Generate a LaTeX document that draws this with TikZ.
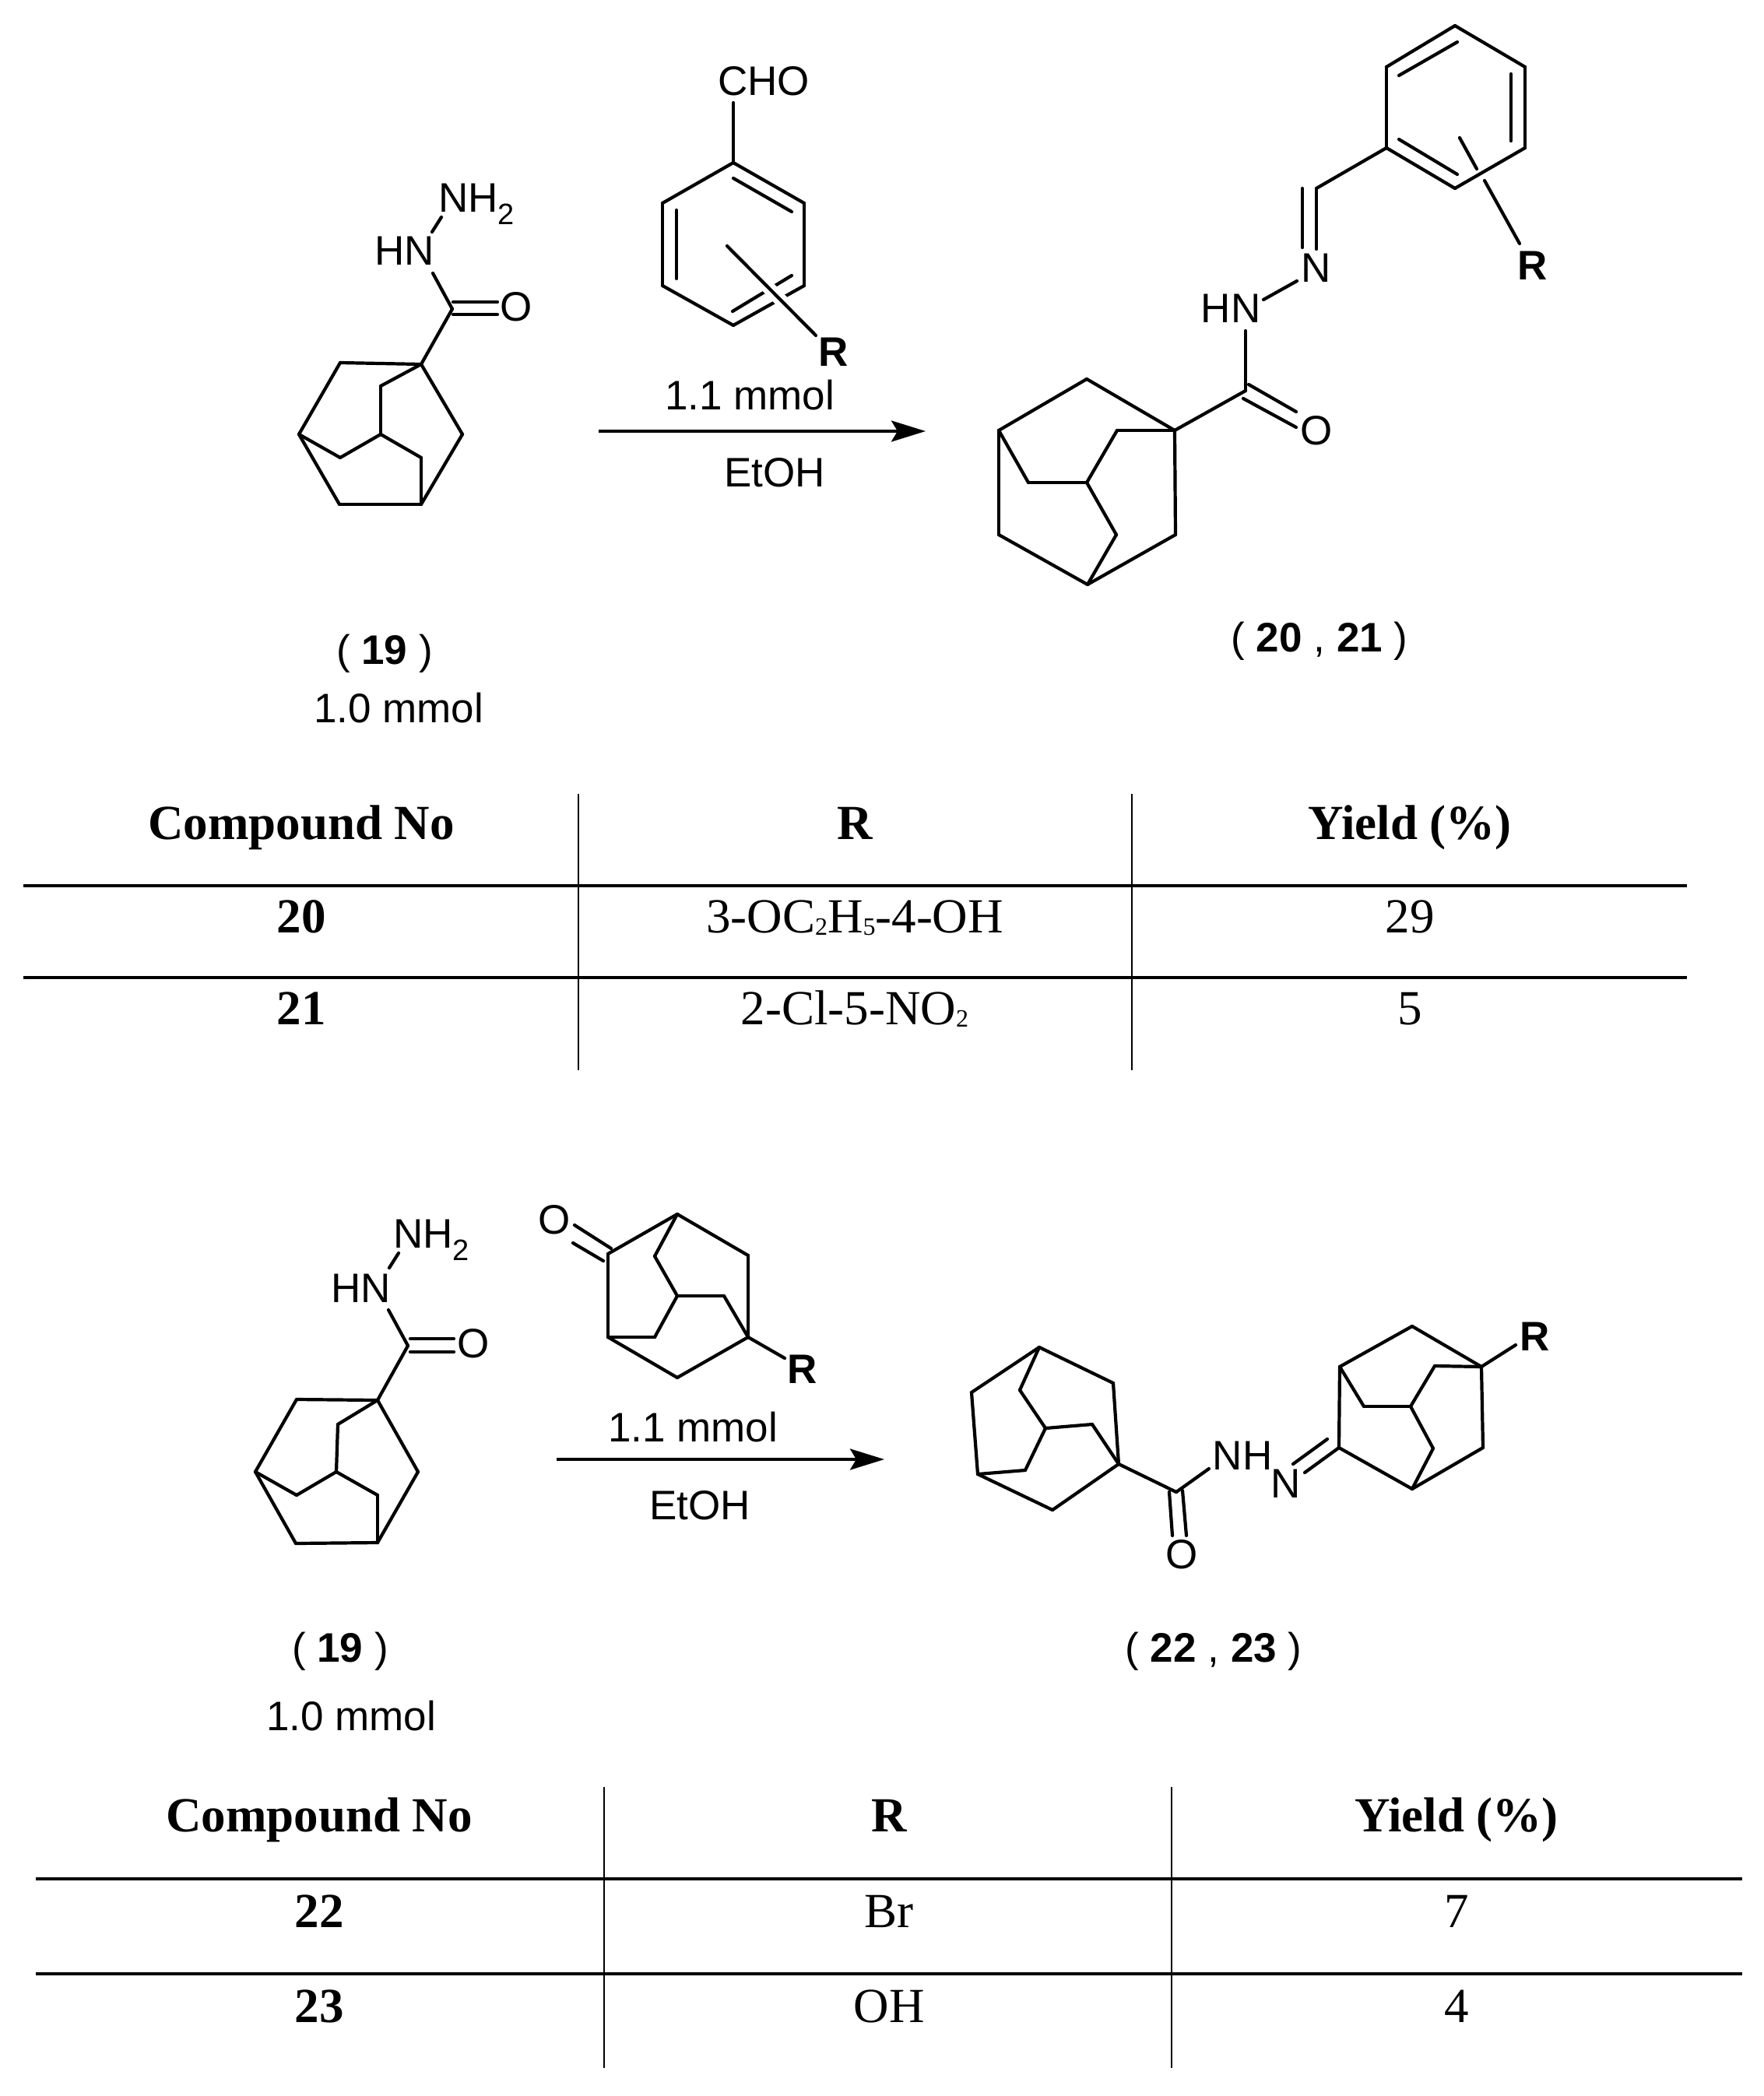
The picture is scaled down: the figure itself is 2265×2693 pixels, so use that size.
\documentclass[tikz,border=0pt]{standalone}
\usepackage{fontspec}
\setmainfont{Liberation Serif}
\newfontfamily\chemfont{Liberation Sans}
\usetikzlibrary{arrows.meta}
\newcommand{\atomsub}[1]{\raisebox{-16pt}{\fontsize{38}{38}\selectfont #1}}
\newcommand{\tabsub}[1]{\raisebox{-3pt}{\fontsize{32}{32}\selectfont #1}}
\tikzstyle{atom}=[anchor=base,inner sep=0pt,font=\chemfont\fontsize{53}{60}\selectfont]
\tikzstyle{atomw}=[atom,anchor=base west]
\tikzstyle{rgroup}=[atom,font=\chemfont\bfseries\fontsize{53}{60}\selectfont]
\tikzstyle{celltext}=[anchor=base,inner sep=0pt,font=\fontsize{63}{70}\selectfont]
\tikzstyle{cellbold}=[celltext,font=\bfseries\fontsize{63}{70}\selectfont]
\tikzstyle{bond}=[line width=4.2pt,line cap=round,line join=round]
\tikzstyle{halo}=[line width=17pt,white]
\tikzstyle{hrule}=[line width=3.6pt]
\tikzstyle{vrule}=[line width=2.6pt]
\tikzstyle{reaction}=[line width=4pt,-{Stealth[length=44pt,width=27pt,inset=8pt]}]

\begin{document}
\begin{tikzpicture}[x=1pt,y=-1pt]
    \useasboundingbox (0,0) rectangle (2265,2693);

    % hydrazide 19, first scheme
    \coordinate (a1) at (541,468);  \coordinate (a2) at (437,466);
    \coordinate (a3) at (384,558);  \coordinate (a4) at (436,648);
    \coordinate (a5) at (541,648);  \coordinate (a6) at (594,558);
    \coordinate (a7) at (489,496);  \coordinate (a8) at (489,558);
    \coordinate (a9) at (437,588);  \coordinate (a10) at (541,588);
    \coordinate (a11) at (581,397); \coordinate (a12) at (556,351);
    \coordinate (a13) at (555,298); \coordinate (a14) at (567,279);
    \coordinate (a15) at (582,388); \coordinate (a16) at (639,388);
    \coordinate (a17) at (582,404); \coordinate (a18) at (639,404);
    \foreach \from/\to in {a1/a2,a2/a3,a3/a4,a4/a5,a5/a6,a6/a1,a1/a7,a7/a8,a8/a9,a9/a3,a8/a10,a10/a5,a1/a11,a11/a12,a13/a14,a15/a16,a17/a18}
    \draw[bond] (\from) -- (\to);
    \node[atomw] (nh2a) at (563,272) {NH\atomsub{2}};
    \node[atom] (hna) at (520,340) {HN};
    \node[atom] (oa) at (663,412) {O};
    \node[atom] (la) at (494,853) {( \textbf{19} )};
    \node[atom] (ma) at (512,928) {1.0 mmol};

    % aldehyde
    \coordinate (b1) at (942,209);  \coordinate (b2) at (1033,261);
    \coordinate (b3) at (1033,367); \coordinate (b4) at (942,418);
    \coordinate (b5) at (851,367);  \coordinate (b6) at (851,261);
    \coordinate (b7) at (942,132);  \coordinate (b8) at (942,229);
    \coordinate (b9) at (1017,272); \coordinate (b10) at (869,270);
    \coordinate (b11) at (869,358); \coordinate (b12) at (941,400);
    \coordinate (b13) at (1017,354);\coordinate (b14) at (934,316);
    \coordinate (b15) at (1048,431);
    \foreach \from/\to in {b1/b2,b2/b3,b3/b4,b4/b5,b5/b6,b6/b1,b1/b7,b8/b9,b10/b11,b12/b13}
    \draw[bond] (\from) -- (\to);
    \draw[halo] (b14) -- (b15);
    \draw[bond] (b14) -- (b15);
    \node[atom] (cho) at (981,122) {CHO};
    \node[rgroup] (rb) at (1071,470) {R};
    \node[atom] (mb) at (963,526) {1.1 mmol};
    \node[atom] (eb) at (995,625) {EtOH};
    \coordinate (arr1) at (769,554);
    \coordinate (arr2) at (1189,554);
    \draw[reaction] (arr1) -- (arr2);

    % product 20, 21
    \coordinate (c1) at (1869,33);  \coordinate (c2) at (1959,86);
    \coordinate (c3) at (1959,190); \coordinate (c4) at (1869,242);
    \coordinate (c5) at (1781,190); \coordinate (c6) at (1781,86);
    \coordinate (c7) at (1797,97);  \coordinate (c8) at (1872,54);
    \coordinate (c9) at (1941,95);  \coordinate (c10) at (1941,181);
    \coordinate (c11) at (1797,179);\coordinate (c12) at (1872,224);
    \coordinate (c13) at (1875,177);\coordinate (c14) at (1897,217);
    \coordinate (c15) at (1907,232);\coordinate (c16) at (1952,313);
    \coordinate (c17) at (1691,242);\coordinate (c18) at (1691,320);
    \coordinate (c19) at (1673,242);\coordinate (c20) at (1673,318);
    \coordinate (c21) at (1666,361);\coordinate (c22) at (1623,385);
    \coordinate (c23) at (1600,425);\coordinate (c24) at (1600,502);
    \coordinate (c25) at (1604,494);\coordinate (c26) at (1665,529);
    \coordinate (c27) at (1597,512);\coordinate (c28) at (1665,549);
    \coordinate (c29) at (1509,553);\coordinate (c30) at (1396,487);
    \coordinate (c31) at (1283,553);\coordinate (c32) at (1283,687);
    \coordinate (c33) at (1397,751);\coordinate (c34) at (1510,687);
    \coordinate (c35) at (1435,553);\coordinate (c36) at (1396,620);
    \coordinate (c37) at (1321,620);\coordinate (c38) at (1434,687);
    \foreach \from/\to in {c1/c2,c2/c3,c3/c4,c4/c5,c5/c6,c6/c1,c7/c8,c9/c10,c11/c12,c13/c14,c15/c16,c5/c17,c17/c18,c19/c20,c21/c22,c23/c24,c25/c26,c27/c28,c24/c29,c29/c30,c30/c31,c31/c32,c32/c33,c33/c34,c34/c29,c29/c35,c35/c36,c36/c37,c37/c31,c36/c38,c38/c33}
    \draw[bond] (\from) -- (\to);
    \node[rgroup] (rc) at (1969,359) {R};
    \node[atom] (nc) at (1691,362) {N};
    \node[atom] (hnc) at (1581,414) {HN};
    \node[atom] (oc) at (1691,571) {O};
    \node[atom] (lc) at (1695,837) {( \textbf{20} , \textbf{21} )};

    % first table
    \coordinate (t1) at (743,1020);  \coordinate (t2) at (743,1375);
    \coordinate (t3) at (1454,1020); \coordinate (t4) at (1454,1375);
    \coordinate (t5) at (30,1138);   \coordinate (t6) at (2167,1138);
    \coordinate (t7) at (30,1256);   \coordinate (t8) at (2167,1256);
    \foreach \from/\to in {t1/t2,t3/t4}
    \draw[vrule] (\from) -- (\to);
    \foreach \from/\to in {t5/t6,t7/t8}
    \draw[hrule] (\from) -- (\to);
    \node[cellbold] (th1) at (387,1078) {Compound No};
    \node[cellbold] (th2) at (1098,1078) {R};
    \node[cellbold] (th3) at (1811,1078) {Yield (\%)};
    \node[cellbold] (tr1) at (387,1198) {20};
    \node[celltext] (tr2) at (1098,1198) {3-OC\tabsub{2}H\tabsub{5}-4-OH};
    \node[celltext] (tr3) at (1811,1198) {29};
    \node[cellbold] (ts1) at (387,1316) {21};
    \node[celltext] (ts2) at (1098,1316) {2-Cl-5-NO\tabsub{2}};
    \node[celltext] (ts3) at (1811,1316) {5};

    % hydrazide 19, second scheme
    \coordinate (d1) at (485,1799);  \coordinate (d2) at (381,1798);
    \coordinate (d3) at (328,1891);  \coordinate (d4) at (380,1983);
    \coordinate (d5) at (485,1982);  \coordinate (d6) at (537,1891);
    \coordinate (d7) at (434,1830);  \coordinate (d8) at (432,1891);
    \coordinate (d9) at (381,1921);  \coordinate (d10) at (485,1921);
    \coordinate (d11) at (524,1729); \coordinate (d12) at (499,1683);
    \coordinate (d13) at (500,1629); \coordinate (d14) at (512,1610);
    \coordinate (d15) at (527,1720); \coordinate (d16) at (583,1720);
    \coordinate (d17) at (527,1737); \coordinate (d18) at (583,1737);
    \foreach \from/\to in {d1/d2,d2/d3,d3/d4,d4/d5,d5/d6,d6/d1,d1/d7,d7/d8,d8/d9,d9/d3,d8/d10,d10/d5,d1/d11,d11/d12,d13/d14,d15/d16,d17/d18}
    \draw[bond] (\from) -- (\to);
    \node[atomw] (nh2d) at (505,1603) {NH\atomsub{2}};
    \node[atom] (hnd) at (464,1673) {HN};
    \node[atom] (od) at (608,1744) {O};
    \node[atom] (ld) at (437,2135) {( \textbf{19} )};
    \node[atom] (md) at (451,2223) {1.0 mmol};

    % adamantanone
    \coordinate (e1) at (870,1560);  \coordinate (e2) at (781,1611);
    \coordinate (e3) at (781,1718);  \coordinate (e4) at (870,1770);
    \coordinate (e5) at (961,1718);  \coordinate (e6) at (961,1613);
    \coordinate (e7) at (841,1614);  \coordinate (e8) at (870,1665);
    \coordinate (e9) at (930,1665);  \coordinate (e10) at (841,1718);
    \coordinate (e11) at (738,1574); \coordinate (e12) at (785,1604);
    \coordinate (e13) at (736,1597); \coordinate (e14) at (775,1620);
    \coordinate (e15) at (1008,1745);
    \foreach \from/\to in {e1/e2,e1/e6,e2/e3,e3/e4,e4/e5,e5/e6,e1/e7,e7/e8,e8/e9,e9/e5,e8/e10,e10/e3,e11/e12,e13/e14,e5/e15}
    \draw[bond] (\from) -- (\to);
    \node[atom] (oe) at (712,1585) {O};
    \node[rgroup] (re) at (1031,1777) {R};
    \node[atom] (me) at (890,1852) {1.1 mmol};
    \node[atom] (ee) at (899,1952) {EtOH};
    \coordinate (arr3) at (715,1875);
    \coordinate (arr4) at (1136,1875);
    \draw[reaction] (arr3) -- (arr4);

    % product 22, 23
    \coordinate (f1) at (1335,1731); \coordinate (f2) at (1430,1777);
    \coordinate (f3) at (1437,1881); \coordinate (f4) at (1248,1789);
    \coordinate (f5) at (1256,1894); \coordinate (f6) at (1352,1940);
    \coordinate (f7) at (1310,1786); \coordinate (f8) at (1343,1835);
    \coordinate (f9) at (1403,1830); \coordinate (f10) at (1317,1889);
    \coordinate (f11) at (1511,1917);\coordinate (f12) at (1553,1887);
    \coordinate (f13) at (1502,1917);\coordinate (f14) at (1506,1973);
    \coordinate (f15) at (1519,1915);\coordinate (f16) at (1524,1973);
    \foreach \from/\to in {f1/f2,f2/f3,f3/f6,f6/f5,f5/f4,f4/f1,f1/f7,f7/f8,f8/f9,f9/f3,f8/f10,f10/f5,f3/f11,f11/f12,f13/f14,f15/f16}
    \draw[bond] (\from) -- (\to);
    \coordinate (g1) at (1720,1860); \coordinate (g2) at (1721,1756);
    \coordinate (g3) at (1814,1704); \coordinate (g4) at (1903,1756);
    \coordinate (g5) at (1905,1860); \coordinate (g6) at (1814,1913);
    \coordinate (g7) at (1843,1755); \coordinate (g8) at (1812,1807);
    \coordinate (g9) at (1752,1807); \coordinate (g10) at (1841,1861);
    \coordinate (g11) at (1676,1892);\coordinate (g12) at (1661,1881);
    \coordinate (g13) at (1705,1849);\coordinate (g14) at (1947,1728);
    \foreach \from/\to in {g1/g2,g2/g3,g3/g4,g4/g5,g5/g6,g6/g1,g4/g7,g7/g8,g8/g9,g9/g2,g8/g10,g10/g6,g11/g1,g12/g13,g4/g14}
    \draw[bond] (\from) -- (\to);
    \node[atom] (nhf) at (1596,1888) {NH};
    \node[atom] (nf) at (1652,1924) {N};
    \node[atom] (of) at (1518,2015) {O};
    \node[rgroup] (rg) at (1972,1735) {R};
    \node[atom] (lf) at (1559,2135) {( \textbf{22} , \textbf{23} )};

    % second table
    \coordinate (v1) at (776,2296);  \coordinate (v2) at (776,2657);
    \coordinate (v3) at (1505,2296); \coordinate (v4) at (1505,2657);
    \coordinate (v5) at (46,2414);   \coordinate (v6) at (2238,2414);
    \coordinate (v7) at (46,2536);   \coordinate (v8) at (2238,2536);
    \foreach \from/\to in {v1/v2,v3/v4}
    \draw[vrule] (\from) -- (\to);
    \foreach \from/\to in {v5/v6,v7/v8}
    \draw[hrule] (\from) -- (\to);
    \node[cellbold] (vh1) at (410,2353) {Compound No};
    \node[cellbold] (vh2) at (1142,2353) {R};
    \node[cellbold] (vh3) at (1871,2353) {Yield (\%)};
    \node[cellbold] (vr1) at (410,2476) {22};
    \node[celltext] (vr2) at (1142,2476) {Br};
    \node[celltext] (vr3) at (1871,2476) {7};
    \node[cellbold] (vs1) at (410,2598) {23};
    \node[celltext] (vs2) at (1142,2598) {OH};
    \node[celltext] (vs3) at (1871,2598) {4};
\end{tikzpicture}
\end{document}
